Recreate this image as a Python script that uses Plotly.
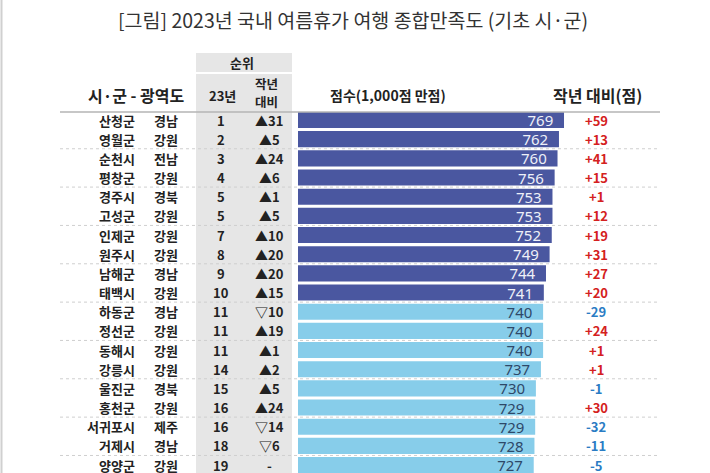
import plotly.graph_objects as go

cities = ["산청군","영월군","순천시","평창군","경주시","고성군","인제군","원주시","남해군","태백시",
          "하동군","정선군","동해시","강릉시","울진군","홍천군","서귀포시","거제시","양양군"]
provinces = ["경남","강원","전남","강원","경북","강원","강원","강원","경남","강원",
             "경남","강원","강원","강원","경북","강원","제주","경남","강원"]
ranks = [1,2,3,4,5,5,7,8,9,10,11,11,11,14,15,16,16,18,19]
rank_change = ["▲31","▲5","▲24","▲6","▲1","▲5","▲10","▲20","▲20","▲15",
               "▽10","▲19","▲1","▲2","▲5","▲24","▽14","▽6","-"]
scores = [769,762,760,756,753,753,752,749,744,741,740,740,740,737,730,729,729,728,727]
diffs = [59,13,41,15,1,12,19,31,27,20,-29,24,1,1,-1,30,-32,-11,-5]

title = "[그림] 2023년 국내 여름휴가 여행 종합만족도 (기초 시·군)"
W, H = 710, 473
rows = list(range(1, len(scores) + 1))

DARK = "#4a57a0"
LIGHT = "#87cdea"
bar_colors = [DARK if i < 10 else LIGHT for i in range(len(scores))]
txt_colors = ["#eef0f8" if i < 10 else "#2e4868" for i in range(len(scores))]

KFONT = "Noto Sans CJK KR"

fig = go.Figure()
fig.add_trace(go.Bar(
    x=scores, y=rows, orientation="h",
    marker=dict(color=bar_colors, line=dict(width=0)),
    text=[f"{s}\u00a0\u00a0" for s in scores],
    textposition="inside", insidetextanchor="end",
    textfont=dict(family="Noto Sans", size=15, color=txt_colors),
    constraintext="none", cliponaxis=False, width=0.84,
    hoverinfo="skip",
))

# pixel helpers for layout (row pitch)
def ypx(p):
    return 1 + (p - 120) / 19.17

shapes = []
# gray rank column
shapes.append(dict(type="rect", xref="paper", yref="y", x0=196/W, x1=292/W,
                   y0=ypx(53), y1=ypx(72), fillcolor="#e6e6e6", line=dict(width=0), layer="below"))
shapes.append(dict(type="rect", xref="paper", yref="y", x0=196/W, x1=292/W,
                   y0=ypx(74), y1=ypx(480), fillcolor="#e6e6e6", line=dict(width=0), layer="below"))
# header line
shapes.append(dict(type="line", xref="paper", yref="y", x0=60/W, x1=660/W,
                   y0=0.58, y1=0.58, line=dict(color="#b4b4b4", width=1.5)))
# dotted separators every two rows
for k in range(1, 10):
    shapes.append(dict(type="line", xref="paper", yref="y", x0=60/W, x1=660/W,
                       y0=2*k + 0.5, y1=2*k + 0.5, line=dict(color="#cfcfcf", width=1, dash="dot")))
# left border
shapes.append(dict(type="line", xref="paper", yref="paper", x0=1.5/W, x1=1.5/W, y0=0, y1=1,
                   line=dict(color="#d0d0d0", width=2)))

ann = []
def A(text, x, y, size=13, color="#222", bold=True, xanchor="center", family=KFONT):
    t = f"<b>{text}</b>" if bold else text
    ann.append(dict(text=t, x=x/W, y=y, xref="paper", yref="y", showarrow=False,
                    xanchor=xanchor, yanchor="middle",
                    font=dict(family=family, size=size, color=color)))

# title
ann.append(dict(text=title, x=353/W, y=1 - 19/H, xref="paper", yref="paper", showarrow=False,
                xanchor="center", yanchor="middle", font=dict(family=KFONT, size=19.5, color="#333")))
# headers
A("순위", 242, ypx(62), size=13)
A("시·군 - 광역도", 136, ypx(95), size=16)
A("23년", 222, ypx(95), size=13)
A("작년", 266, ypx(83), size=12.5)
A("대비", 266, ypx(101), size=12.5)
A("점수(1,000점 만점)", 388, ypx(95), size=14)
A("작년 대비(점)", 597, ypx(95), size=16)

for i, r in enumerate(rows):
    A(cities[i], 137, r, size=13, xanchor="right")
    A(provinces[i], 166, r, size=13)
    A(str(ranks[i]), 221, r, size=13)
    A(rank_change[i], 269, r, size=13)
    d = diffs[i]
    A(f"+{d}" if d > 0 else f"-{abs(d)}", 596, r, size=13,
      color="#d42020" if d > 0 else "#2a7cc4")

fig.update_layout(
    width=W, height=H, margin=dict(l=0, r=0, t=0, b=0),
    paper_bgcolor="white", plot_bgcolor="white",
    showlegend=False, shapes=shapes, annotations=ann,
    xaxis=dict(domain=[298/W, 1], range=[400, 400 + 412/0.7209], visible=False, fixedrange=True),
    yaxis=dict(range=[ypx(473), ypx(0)], visible=False, fixedrange=True),
)

fig.write_html("out.html", config={"displayModeBar": False, "staticPlot": True},
               post_script="document.body.style.margin='0';document.body.style.overflow='hidden';")
